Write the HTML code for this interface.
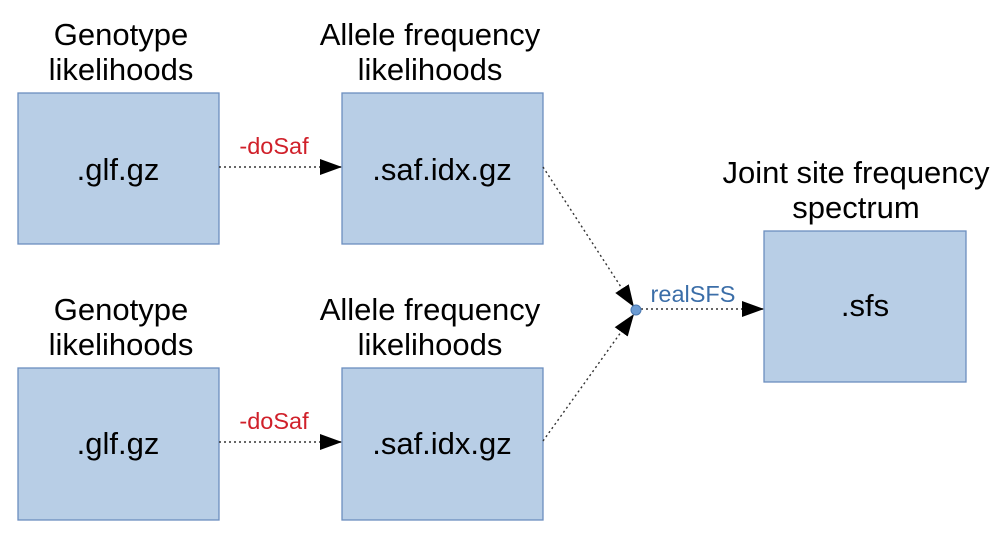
<!DOCTYPE html>
<html><head><meta charset="utf-8"><style>body{margin:0;background:#fff}</style></head><body>
<svg width="1002" height="539" xmlns="http://www.w3.org/2000/svg" font-family="Liberation Sans, sans-serif">
<defs>
<marker id="b" markerWidth="22" markerHeight="16" refX="22" refY="8" orient="auto" markerUnits="userSpaceOnUse"><path d="M0,0 L22,8 L0,16 z" fill="#000"/></marker></defs>
<g fill="#b8cee6" stroke="#6c8ebf" stroke-width="1.3">
<rect x="18" y="93" width="201" height="151"/>
<rect x="342" y="93" width="201" height="151"/>
<rect x="18" y="368" width="201" height="152"/>
<rect x="342" y="368" width="201" height="152"/>
<rect x="764" y="231" width="202" height="151"/>
</g>
<g stroke="#333" stroke-width="1.4" stroke-dasharray="2,3" fill="none">
<line x1="219" y1="167" x2="342" y2="167" marker-end="url(#b)"/>
<line x1="219" y1="442" x2="342" y2="442" marker-end="url(#b)"/>
<line x1="543" y1="167" x2="634" y2="307" marker-end="url(#b)"/>
<line x1="543" y1="441" x2="634" y2="314" marker-end="url(#b)"/>
<line x1="636" y1="309" x2="764" y2="309" marker-end="url(#b)"/>
</g>
<circle cx="636" cy="310" r="5" fill="#6c9bd2" stroke="#4a78b0"/>
<g font-size="31" text-anchor="middle" fill="#000">
<text x="121" y="45">Genotype</text><text x="121" y="80">likelihoods</text>
<text x="430" y="45">Allele frequency</text><text x="430" y="80">likelihoods</text>
<text x="121" y="320">Genotype</text><text x="121" y="355">likelihoods</text>
<text x="430" y="320">Allele frequency</text><text x="430" y="355">likelihoods</text>
<text x="856" y="183">Joint site frequency</text><text x="856" y="218">spectrum</text>
<text x="118" y="180">.glf.gz</text><text x="442" y="180">.saf.idx.gz</text>
<text x="118" y="454">.glf.gz</text><text x="442" y="454">.saf.idx.gz</text>
<text x="865" y="316">.sfs</text>
</g>
<g font-size="23.5" text-anchor="middle">
<text x="274" y="154" fill="#d0202a">-doSaf</text>
<text x="274" y="429" fill="#d0202a">-doSaf</text>
<text x="693" y="302" fill="#3b6ea8">realSFS</text>
</g>
</svg>
</body></html>
